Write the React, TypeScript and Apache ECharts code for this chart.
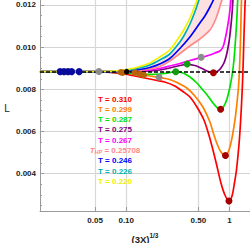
import React, { useEffect, useRef } from "react";
import * as echarts from "echarts";

// ---- data (x = (3X)^{1/3}, y = L) ----
const xTickValues = [0.05, 0.1, 0.5, 1];
const xTickLabels = ["0.05", "0.10", "0.50", "1"];
const yMajorValues = [0.004, 0.006, 0.008, 0.01, 0.012];
const yMinorValues = [0.0025, 0.003, 0.0035, 0.0045, 0.005, 0.0055, 0.0065, 0.007, 0.0075, 0.0085, 0.009, 0.0095, 0.0105, 0.011, 0.0115];
const criticalL = 0.00884;

const curveNames = ["T = 0.310", "T = 0.299", "T = 0.287", "T = 0.275", "T = 0.267", "T_HP = 0.25708", "T = 0.246", "T = 0.226", "T = 0.220"];
const curveColors = ["#ff0000", "#ff8000", "#00e000", "#800080", "#ff00ff", "#ff8a8a", "#0000ff", "#00b0b0", "#f2f200"];

const curveT310: [number, number][] = [
  [0.0146, 0.008814], [0.0553, 0.008823], [0.0773, 0.008785], [0.0967, 0.008728], [0.121, 0.008634],
  [0.151, 0.008538], [0.189, 0.008444], [0.236, 0.008349], [0.296, 0.008159], [0.354, 0.007898],
  [0.414, 0.007637], [0.484, 0.007163], [0.566, 0.006547], [0.632, 0.005835], [0.692, 0.005124],
  [0.756, 0.004365], [0.827, 0.003559], [0.904, 0.00299], [0.989, 0.002706], [1.058, 0.002943],
  [1.118, 0.003559], [1.169, 0.004176], [1.236, 0.005361], [1.284, 0.006547], [1.322, 0.007732],
  [1.352, 0.008918], [1.383, 0.010577], [1.414, 0.012], [1.423, 0.012237], [1.433, 0.012522],
];
const curveT299: [number, number][] = [
  [0.0146, 0.008837], [0.0553, 0.008828], [0.0865, 0.008809], [0.108, 0.008776], [0.135, 0.008705],
  [0.169, 0.008634], [0.211, 0.008562], [0.264, 0.008467], [0.331, 0.008254], [0.387, 0.008064],
  [0.462, 0.007685], [0.553, 0.007163], [0.647, 0.006452], [0.707, 0.005835], [0.773, 0.005314],
  [0.827, 0.005029], [0.875, 0.004887], [0.915, 0.004863], [0.989, 0.005124], [1.058, 0.005693],
  [1.131, 0.006547], [1.182, 0.007353], [1.223, 0.008112], [1.25, 0.008918], [1.279, 0.01034],
  [1.293, 0.011289], [1.308, 0.012237], [1.322, 0.012522],
];
const curveT287: [number, number][] = [
  [0.0146, 0.008837], [0.0553, 0.008828], [0.0865, 0.008799], [0.135, 0.008728], [0.169, 0.008714],
  [0.211, 0.008728], [0.253, 0.008776], [0.302, 0.008837], [0.354, 0.008776], [0.414, 0.008586],
  [0.484, 0.008301], [0.553, 0.007969], [0.618, 0.007685], [0.692, 0.007353], [0.756, 0.00714],
  [0.821, 0.007054], [0.884, 0.007211], [0.946, 0.007543], [1.011, 0.008112], [1.058, 0.008634],
  [1.106, 0.009392], [1.144, 0.01034], [1.177, 0.011289], [1.201, 0.012237], [1.215, 0.012616],
];
const curveT275: [number, number][] = [
  [0.0146, 0.008837], [0.135, 0.008847], [0.169, 0.00887], [0.211, 0.008918], [0.264, 0.009012],
  [0.331, 0.009131], [0.387, 0.009188], [0.462, 0.009131], [0.517, 0.009036], [0.578, 0.008918],
  [0.647, 0.008814], [0.699, 0.00879], [0.773, 0.00887], [0.827, 0.009012], [0.884, 0.00925],
  [0.925, 0.009534], [0.967, 0.009961], [1.011, 0.010577], [1.046, 0.011289], [1.069, 0.011858],
  [1.081, 0.012237], [1.093, 0.012522],
];
const curveT267: [number, number][] = [
  [0.0146, 0.008837], [0.108, 0.008842], [0.135, 0.00887], [0.169, 0.008918], [0.211, 0.008989],
  [0.264, 0.009107], [0.331, 0.009226], [0.414, 0.009368], [0.517, 0.009496], [0.578, 0.009558],
  [0.647, 0.009629], [0.723, 0.009724], [0.809, 0.009819], [0.865, 0.010008], [0.904, 0.01034],
  [0.946, 0.010815], [0.989, 0.011384], [1.023, 0.012], [1.034, 0.012237], [1.046, 0.012474],
];
const curveTHP: [number, number][] = [
  [0.0146, 0.008837], [0.0865, 0.008847], [0.108, 0.008861], [0.135, 0.008894], [0.169, 0.008965],
  [0.211, 0.009084], [0.264, 0.009344], [0.331, 0.0097], [0.414, 0.010056], [0.517, 0.010388],
  [0.647, 0.010815], [0.723, 0.011241], [0.773, 0.011621], [0.827, 0.012095], [0.846, 0.012237],
  [0.865, 0.012474],
];
const curveT246: [number, number][] = [
  [0.0146, 0.008837], [0.0553, 0.008837], [0.0865, 0.008856], [0.108, 0.00888], [0.135, 0.008941],
  [0.169, 0.009036], [0.211, 0.009202], [0.264, 0.009463], [0.331, 0.009937], [0.414, 0.010483],
  [0.517, 0.011146], [0.578, 0.011478], [0.647, 0.011905], [0.699, 0.012237], [0.723, 0.012474],
];
const curveT226: [number, number][] = [
  [0.0146, 0.008837], [0.0553, 0.008842], [0.0865, 0.00887], [0.108, 0.008918], [0.135, 0.009012],
  [0.169, 0.009155], [0.211, 0.009392], [0.264, 0.009676], [0.331, 0.010245], [0.37, 0.010625],
  [0.414, 0.011099], [0.462, 0.011668], [0.506, 0.012237], [0.529, 0.012616],
];
const curveT220: [number, number][] = [
  [0.0146, 0.008837], [0.0553, 0.008847], [0.0865, 0.008894], [0.108, 0.008965], [0.135, 0.009084],
  [0.169, 0.00925], [0.211, 0.009534], [0.264, 0.009866], [0.331, 0.01053], [0.37, 0.010909],
  [0.414, 0.011384], [0.462, 0.011953], [0.484, 0.012237], [0.506, 0.012616],
];

const navyDots: [number, number][] = [[0.0229, 0.00884], [0.025, 0.00884], [0.0273, 0.00884], [0.0296, 0.00884], [0.035, 0.00884]];
const grayDots: [number, number][] = [[0.0544, 0.00885], [0.208, 0.008572], [0.532, 0.00952]];
const brownDots: [number, number][] = [[0.0885, 0.008809], [0.0925, 0.00879], [0.121, 0.00879], [0.135, 0.008728], [0.148, 0.008681]];
const blackDots: [number, number][] = [[0.101, 0.00884]];
const greenDots: [number, number][] = [[0.302, 0.008837], [0.389, 0.009202]];
const darkRedDots: [number, number][] = [[0.699, 0.00879], [0.821, 0.007054], [0.915, 0.004863], [0.989, 0.002706]];

const curves = [curveT310, curveT299, curveT287, curveT275, curveT267, curveTHP, curveT246, curveT226, curveT220];

const FONT = "Liberation Sans, Arial, sans-serif";

export default function App() {
  const ref = useRef<HTMLDivElement>(null);
  useEffect(() => {
    if (!ref.current) return;
    const chart = echarts.init(ref.current, null, { renderer: "svg" });
    const yMin = 0.002231;
    const yMax = 0.012237;
    const lineSeries: any[] = curves.map((c, i) => ({
      type: "line",
      name: curveNames[i],
      data: c,
      showSymbol: false,
      smooth: 0.3,
      clip: true,
      z: 3,
      lineStyle: { color: curveColors[i], width: 1.7 },
    }));
    lineSeries[lineSeries.length - 1].markLine = {
      silent: true,
      precision: 6,
      symbol: ["none", "none"],
      label: { show: false },
      lineStyle: { color: "#000", type: [4, 2], width: 1.5 },
      data: [{ yAxis: criticalL }],
    };
    const dotSeries = (data: [number, number][], color: string, size: number) => ({
      type: "scatter",
      data,
      symbolSize: size,
      itemStyle: { color, opacity: 1 },
      z: 6,
    });
    const legendItems = curveNames.map((n, i) => {
      const isHP = n.startsWith("T_HP");
      return {
        type: "text",
        x: 115,
        y: 99 + i * 10.33,
        style: {
          text: isHP ? "{t|T}{s|HP}{n| = 0.25708}" : n,
          fill: curveColors[i] === "#f2f200" ? "#f0f000" : curveColors[i],
          font: `bold 8px ${FONT}`,
          align: "center",
          verticalAlign: "middle",
          rich: isHP
            ? {
                t: { fontStyle: "italic", fontWeight: "bold", fontSize: 8, fontFamily: FONT, fill: curveColors[i] },
                s: { fontStyle: "italic", fontWeight: "bold", fontSize: 5.5, fontFamily: FONT, fill: curveColors[i], verticalAlign: "bottom", padding: [3, 0, 0, 0] },
                n: { fontWeight: "bold", fontSize: 8, fontFamily: FONT, fill: curveColors[i] },
              }
            : undefined,
        },
        z: 10,
      };
    });
    chart.setOption({
      animation: false,
      grid: { left: 40, right: 0, top: 0, bottom: 32, containLabel: false, outerBoundsMode: "none" },
      xAxis: {
        type: "log",
        logBase: 10,
        min: 0.01462,
        max: 1.581,
        name: "{a|(3X)}{b|1/3}",
        nameLocation: "middle",
        nameGap: 21,
        nameTextStyle: {
          rich: {
            a: { fontSize: 9.5, fontWeight: "bold", fontFamily: FONT, color: "#222", verticalAlign: "bottom", lineHeight: 12 },
            b: { fontSize: 6.5, fontWeight: "bold", fontFamily: FONT, color: "#222", verticalAlign: "top", lineHeight: 12, padding: [0, 0, 6, 0] },
          },
        },
        axisLine: { show: true, lineStyle: { color: "#9a9a9a", width: 1 } },
        axisTick: { show: true, inside: true, length: 4, customValues: xTickValues, lineStyle: { color: "#9a9a9a" } },
        axisLabel: {
          customValues: xTickValues,
          formatter: (v: number) => {
            const i = xTickValues.findIndex((t) => Math.abs(t - v) < 1e-6);
            return i >= 0 ? xTickLabels[i] : "";
          },
          margin: 5,
          fontSize: 8,
          fontWeight: "bold",
          fontFamily: FONT,
          color: "#222",
        },
        splitLine: { show: true, lineStyle: { color: "#d8d8d8", width: 1.2 } },
        minorTick: { show: false },
      },
      yAxis: [
        {
          type: "value",
          min: yMin,
          max: yMax,
          axisLine: { show: true, lineStyle: { color: "#9a9a9a", width: 1 } },
          axisTick: { show: true, inside: true, length: 4, customValues: yMajorValues, lineStyle: { color: "#9a9a9a" } },
          axisLabel: {
            customValues: yMajorValues,
            formatter: (v: number) => v.toFixed(3),
            margin: 4,
            fontSize: 8,
            fontWeight: "bold",
            fontFamily: FONT,
            color: "#222",
          },
          splitLine: { show: true, lineStyle: { color: "#d4d4d4", width: 1 } },
        },
        {
          type: "value",
          min: yMin,
          max: yMax,
          position: "left",
          axisLine: { show: false },
          axisTick: { show: true, inside: true, length: 2, customValues: yMinorValues, lineStyle: { color: "#9a9a9a" } },
          axisLabel: { show: false },
          splitLine: { show: false },
        },
      ],
      graphic: [
        {
          type: "text",
          x: 7,
          y: 108,
          style: { text: "L", font: `10px ${FONT}`, fill: "#222", align: "center", verticalAlign: "middle" },
        },
        ...legendItems,
      ],
      series: [
        {
          type: "custom",
          clip: true,
          z: 2,
          data: [[curveT226[0][0], curveT226[0][1]]],
          renderItem: (params: any, api: any) => {
            if (params.dataIndex !== 0) return null;
            const pts = [...curveT226, ...curveTHP.slice().reverse()].map((p) => api.coord(p));
            return { type: "polygon", shape: { points: pts }, style: { fill: "#fde0e0" } };
          },
        },
        ...lineSeries,
        dotSeries(navyDots, "#0a0a9c", 7),
        dotSeries(grayDots, "#8c8c8c", 7),
        dotSeries(brownDots, "#b8620a", 6.5),
        dotSeries(blackDots, "#000000", 5.5),
        dotSeries(greenDots, "#129c12", 7),
        dotSeries(darkRedDots, "#a30000", 7),
      ],
    });
    return () => chart.dispose();
  }, []);
  return <div ref={ref} style={{ position: "absolute", left: 0, top: 0, width: 250, height: 243 }} />;
}
